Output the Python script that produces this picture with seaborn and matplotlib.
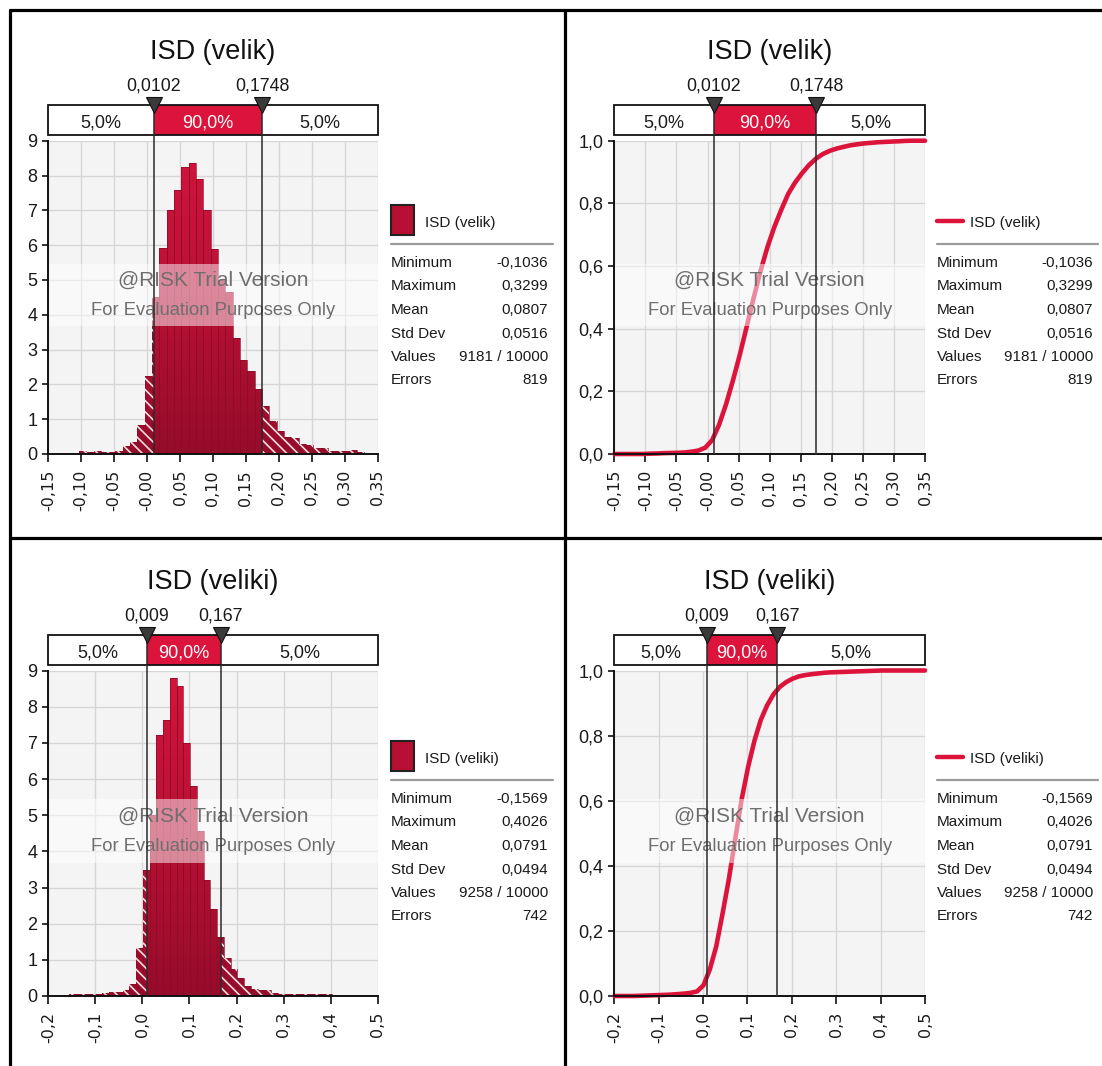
import numpy as np
import pandas as pd
import matplotlib
matplotlib.use('Agg')
import matplotlib.pyplot as plt
import seaborn as sns
import matplotlib.transforms as mtransforms
from matplotlib.patches import Rectangle, PathPatch
from matplotlib.path import Path
from matplotlib.lines import Line2D
from matplotlib.colors import LinearSegmentedColormap

W, H = 1102, 1066

# ---- data ----
velik_name = 'ISD (velik)'
velik_min, velik_max = -0.1036, 0.3299
velik_p5, velik_p95 = 0.0102, 0.1748
velik_p_labels = ['0,0102', '0,1748']
velik_density = [0.1, 0.05, 0.1, 0.05, 0.05, 0.1, 0.22, 0.34, 0.84, 2.25,
                 4.5, 5.91, 7.0, 7.57, 8.24, 8.35, 7.9, 7.0, 5.9, 5.0, 4.65,
                 3.33, 2.71, 2.37, 1.87, 1.37, 0.94, 0.67, 0.5, 0.46, 0.29,
                 0.27, 0.17, 0.17, 0.1, 0.1, 0.08, 0.12, 0.05]
velik_stats = ['-0,1036', '0,3299', '0,0807', '0,0516', '9181 / 10000', '819']
velik_xticks = [-0.15, -0.10, -0.05, 0.0, 0.05, 0.10, 0.15, 0.20, 0.25, 0.30, 0.35]
velik_xlabels = ['-0,15', '-0,10', '-0,05', '-0,00', '0,05', '0,10', '0,15',
                 '0,20', '0,25', '0,30', '0,35']

veliki_name = 'ISD (veliki)'
veliki_min, veliki_max = -0.1569, 0.4026
veliki_p5, veliki_p95 = 0.009, 0.167
veliki_p_labels = ['0,009', '0,167']
veliki_density = [0.05, 0.05, 0.05, 0.05, 0.05, 0.07, 0.10, 0.11, 0.16, 0.32,
                  1.34, 3.49, 5.0, 7.22, 7.64, 8.8, 8.58, 7.0, 5.8, 4.56, 3.22,
                  2.4, 1.64, 1.04, 0.74, 0.51, 0.28, 0.19, 0.16, 0.16, 0.09,
                  0.05, 0.05, 0.05, 0.05, 0.05, 0.05, 0.05, 0.05]
veliki_stats = ['-0,1569', '0,4026', '0,0791', '0,0494', '9258 / 10000', '742']
veliki_xticks = [-0.2, -0.1, 0.0, 0.1, 0.2, 0.3, 0.4, 0.5]
veliki_xlabels = ['-0,2', '-0,1', '0,0', '0,1', '0,2', '0,3', '0,4', '0,5']

stat_names = ['Minimum', 'Maximum', 'Mean', 'Std Dev', 'Values', 'Errors']
band_labels = ['5,0%', '90,0%', '5,0%']
hist_yticks = [0, 1, 2, 3, 4, 5, 6, 7, 8, 9]
hist_ylabels = ['0', '1', '2', '3', '4', '5', '6', '7', '8', '9']
cdf_yticks = [0.0, 0.2, 0.4, 0.6, 0.8, 1.0]
cdf_ylabels = ['0,0', '0,2', '0,4', '0,6', '0,8', '1,0']

CRIMSON = '#DC143C'
TXT = '#1a1a1a'

sns.set_theme(style='white')
plt.rcParams['font.family'] = ['Liberation Sans', 'DejaVu Sans']
plt.rcParams['hatch.color'] = 'white'
plt.rcParams['hatch.linewidth'] = 1.2

fig = plt.figure(figsize=(W / 100, H / 100), dpi=100)


def fy(y):
    return 1 - y / H


def make_axes(left, right, top, bottom):
    return fig.add_axes([left / W, 1 - bottom / H, (right - left) / W, (bottom - top) / H])


def style_axes(ax, xlim, ylim, xticks, xlabels, yticks, ylabels):
    ax.set_facecolor('#F4F4F4')
    ax.set_xlim(*xlim)
    ax.set_ylim(*ylim)
    ax.set_xticks(xticks)
    ax.set_xticklabels(xlabels, rotation=90, family='DejaVu Sans', fontsize=11.5)
    ax.set_yticks(yticks)
    ax.set_yticklabels(ylabels, fontsize=13)
    ax.grid(True, color='#D6D6D6', lw=1.0, zorder=0)
    ax.set_axisbelow(True)
    for s in ['top', 'right']:
        ax.spines[s].set_visible(False)
    for s in ['left', 'bottom']:
        ax.spines[s].set_color('#111111')
        ax.spines[s].set_linewidth(1.4)
        ax.spines[s].set_zorder(7)
    ax.tick_params(axis='x', length=5.5, width=1.2, color='#111111', pad=6, direction='out', bottom=True)
    ax.tick_params(axis='y', length=4, width=1.2, color='#111111', pad=4, direction='out', left=True)
    ax.tick_params(labelcolor=TXT)
    ax.set_xlabel('')
    ax.set_ylabel('')


def header(ax, ax_top, ax_bottom, xlim, name, p5, p95, p_labels):
    blend = mtransforms.blended_transform_factory(ax.transData, fig.transFigure)
    bar_top, bar_bot = ax_top - 35.5, ax_top - 5.5
    ax.text(0.5, fy(ax_top - 81.5), name,
            transform=mtransforms.blended_transform_factory(ax.transAxes, fig.transFigure),
            ha='center', va='baseline', fontsize=19.5, color='#111111')
    # percentile band
    parts = [(xlim[0], p5, 'white'), (p5, p95, CRIMSON), (p95, xlim[1], 'white')]
    for (a, b, c), lab in zip(parts, band_labels):
        ax.add_artist(Rectangle((a, fy(bar_bot)), b - a, 30 / H, transform=blend,
                                facecolor=c, edgecolor='none', zorder=8, clip_on=False))
        ax.text((a + b) / 2, fy(bar_bot - 8), lab, transform=blend, ha='center', va='baseline',
                fontsize=13, color='white' if c == CRIMSON else TXT, zorder=9)
    ax.add_artist(Rectangle((xlim[0], fy(bar_bot)), xlim[1] - xlim[0], 30 / H, transform=blend,
                            facecolor='none', edgecolor='#111111', lw=1.3, zorder=9, clip_on=False))
    for p, lab in zip([p5, p95], p_labels):
        ax.text(p, fy(ax_top - 50), lab, transform=blend, ha='center', va='baseline',
                fontsize=12.8, color=TXT)
        ax.add_artist(Line2D([p, p], [fy(ax_bottom), fy(bar_top)], transform=blend,
                             color='#2a2a2a', lw=1.1, zorder=9.5, clip_on=False))
        ax.add_artist(Line2D([p], [fy(bar_top)], transform=blend, marker='v', markersize=11,
                             color='#3a3a3a', markeredgecolor='#111111', markeredgewidth=0.8,
                             linestyle='none', zorder=10, clip_on=False))


def watermark(ax):
    ax.add_patch(Rectangle((0, 0.41), 1, 0.195, transform=ax.transAxes, facecolor='white',
                           edgecolor='none', alpha=0.5, zorder=4))
    ax.text(0.5, 0.553, '@RISK Trial Version', transform=ax.transAxes, ha='center', va='center',
            fontsize=15, color='#6e6e6e', zorder=5)
    ax.text(0.5, 0.458, 'For Evaluation Purposes Only', transform=ax.transAxes, ha='center',
            va='center', fontsize=13.2, color='#6e6e6e', zorder=5)


def legend(x_lab, x_val, y0, name, values, kind):
    fs = 11
    if kind == 'hist':
        fig.add_artist(Rectangle((x_lab / W, fy(y0 + 16)), 23 / W, 30 / H, transform=fig.transFigure,
                                 facecolor='#B81034', edgecolor='#222222', lw=1.5))
        fig.text((x_lab + 34) / W, fy(y0 + 8), name, fontsize=fs, color=TXT, va='baseline')
    else:
        fig.add_artist(Line2D([x_lab / W, (x_lab + 26) / W], [fy(y0 + 1.5)] * 2, transform=fig.transFigure,
                              color=CRIMSON, lw=3.2))
        fig.text((x_lab + 33) / W, fy(y0 + 8), name, fontsize=fs, color=TXT, va='baseline')
    fig.add_artist(Line2D([x_lab / W, (x_val + 5) / W], [fy(y0 + 25)] * 2, transform=fig.transFigure,
                          color='#9a9a9a', lw=1.6))
    for i, (lab, val) in enumerate(zip(stat_names, values)):
        yb = fy(y0 + 48 + i * 23.5)
        fig.text(x_lab / W, yb, lab, fontsize=fs, color=TXT, va='baseline')
        fig.text(x_val / W, yb, val, fontsize=fs, color=TXT, va='baseline', ha='right')


def hist_panel(box, name, lo, hi, dens, p5, p95, p_labels, xticks, xlabels, stats, leg):
    left, right, top, bottom = box
    ax = make_axes(left, right, top, bottom)
    xlim = (xticks[0], xticks[-1])
    edges = np.linspace(lo, hi, len(dens) + 1)
    df = pd.DataFrame({'value': (edges[:-1] + edges[1:]) / 2, 'density': dens})
    n0 = len(ax.patches)
    sns.histplot(data=df, x='value', weights='density', bins=list(edges), stat='count', ax=ax,
                 color='#B81034', alpha=1, edgecolor='#8E0B26', linewidth=0.5, zorder=3)
    bars = ax.patches[n0:]
    path = Path.make_compound_path(*[b.get_path().transformed(b.get_patch_transform()) for b in bars])
    for b in bars:
        b.set_facecolor('none')
    # vertical gradient fill of the bars
    cmap = LinearSegmentedColormap.from_list('bars', ['#960C2B', '#BA1035', '#D3143E'])
    im = ax.imshow(np.linspace(0, 1, 256).reshape(-1, 1), extent=(xlim[0], xlim[1], 0, 9),
                   origin='lower', aspect='auto', cmap=cmap, zorder=2, interpolation='bilinear')
    im.set_clip_path(PathPatch(path, transform=ax.transData))
    # hatched tails outside the 5% / 95% marks
    for a, b in [(xlim[0], p5), (p95, xlim[1])]:
        hp = PathPatch(path, facecolor='none', edgecolor='#F6DDE2', lw=0, hatch='\\\\\\', zorder=3.5)
        ax.add_patch(hp)
        hp.set_clip_path(Rectangle((a, 0), b - a, 9, transform=ax.transData))
    style_axes(ax, xlim, (0, 9), xticks, xlabels, hist_yticks, hist_ylabels)
    header(ax, top, bottom, xlim, name, p5, p95, p_labels)
    watermark(ax)
    legend(leg[0], leg[1], leg[2], name, stats, 'hist')
    ax.set_xlim(*xlim)
    ax.set_ylim(0, 9)


def cdf_panel(box, name, lo, hi, dens, p5, p95, p_labels, xticks, xlabels, stats, leg):
    left, right, top, bottom = box
    ax = make_axes(left, right, top, bottom)
    xlim = (xticks[0], xticks[-1])
    edges = np.linspace(lo, hi, len(dens) + 1)
    mass = np.cumsum(np.array(dens) * (edges[1] - edges[0]))
    mass = mass / mass[-1]
    df = pd.DataFrame({'value': np.concatenate([[xlim[0]], edges, [xlim[1]]]),
                       'prob': np.concatenate([[0, 0], mass, [1]])})
    sns.lineplot(data=df, x='value', y='prob', ax=ax, color=CRIMSON, linewidth=3.3,
                 estimator=None, sort=False, zorder=3, clip_on=False)
    style_axes(ax, xlim, (0, 1), xticks, xlabels, cdf_yticks, cdf_ylabels)
    header(ax, top, bottom, xlim, name, p5, p95, p_labels)
    watermark(ax)
    legend(leg[0], leg[1], leg[2], name, stats, 'cdf')
    ax.set_xlim(*xlim)
    ax.set_ylim(0, 1)


hist_panel((48.3, 377.7, 140.7, 454), velik_name, velik_min, velik_max, velik_density,
           velik_p5, velik_p95, velik_p_labels, velik_xticks, velik_xlabels, velik_stats, (391, 548, 219))
cdf_panel((614.3, 925, 140.7, 454), velik_name, velik_min, velik_max, velik_density,
          velik_p5, velik_p95, velik_p_labels, velik_xticks, velik_xlabels, velik_stats, (937, 1093, 219))
hist_panel((48.3, 377.7, 670.5, 996), veliki_name, veliki_min, veliki_max, veliki_density,
           veliki_p5, veliki_p95, veliki_p_labels, veliki_xticks, veliki_xlabels, veliki_stats, (391, 548, 755))
cdf_panel((614.3, 925, 670.5, 996), veliki_name, veliki_min, veliki_max, veliki_density,
          veliki_p5, veliki_p95, veliki_p_labels, veliki_xticks, veliki_xlabels, veliki_stats, (937, 1093, 755))

# panel borders
for xs_, ys_ in [([10, W], [10, 10]), ([10, 10], [10, H]), ([565, 565], [10, H]), ([10, W], [537.5, 537.5])]:
    fig.add_artist(Line2D([x / W for x in xs_], [fy(y) for y in ys_], transform=fig.transFigure,
                          color='black', lw=2.3))

fig.savefig('out.png', dpi=100)
